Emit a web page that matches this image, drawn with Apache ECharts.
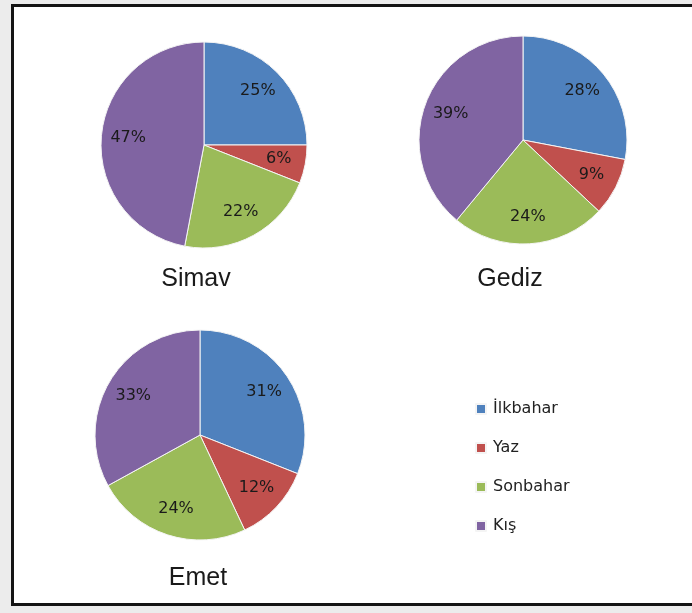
<!DOCTYPE html>
<html>
<head>
<meta charset="utf-8">
<script src="https://cdn.jsdelivr.net/npm/echarts@6/dist/echarts.min.js"></script>
<style>
  html, body { margin: 0; padding: 0; background: #ececec; }
  #frame { position: absolute; left: 11px; top: 4px; width: 720px; height: 596px; border: 3px solid #141414; border-right: none; background: #fff; }
  #main { position: absolute; left: 0; top: 0; width: 692px; height: 613px; }
</style>
</head>
<body>
<div id="frame"></div>
<div id="main"></div>
<script>
// mevsimler (seasons) and share of each station, in percent
const seasons = ["İlkbahar", "Yaz", "Sonbahar", "Kış"]
const stations = ["Simav", "Gediz", "Emet"]
const simavValues = [25, 6, 22, 47]
const gedizValues = [28, 9, 24, 39]
const emetValues = [31, 12, 24, 33]

const colors = ["#4f81bd", "#c0504d", "#9bbb59", "#8064a2"]

const myChart = echarts.init(document.getElementById("main"), null, { renderer: "canvas" })

// pie placement, px
const pies = [
  { values: simavValues, center: [204, 145], radius: 103, titleX: 196, titleY: 267 },
  { values: gedizValues, center: [523, 140], radius: 104, titleX: 510, titleY: 267 },
  { values: emetValues, center: [200, 435], radius: 105, titleX: 198, titleY: 566 }
]

const series = []
const titles = []

pies.forEach(function (p, i) {
  const data = p.values.map(function (v, k) {
    return { name: seasons[k], value: v }
  })
  // the coloured slices
  series.push({
    name: stations[i],
    type: "pie",
    center: p.center,
    radius: [0, p.radius],
    startAngle: 90,
    clockwise: true,
    animation: false,
    silent: true,
    label: { show: false },
    labelLine: { show: false },
    itemStyle: { borderColor: "#f4f4f4", borderWidth: 1 },
    data: data
  })
  // invisible ring, only to push the labels outward (about 0.7 of radius)
  series.push({
    name: stations[i] + "-lbl",
    type: "pie",
    center: p.center,
    radius: [p.radius * 0.42, p.radius],
    startAngle: 90,
    clockwise: true,
    animation: false,
    silent: true,
    legendHoverLink: false,
    itemStyle: { color: "transparent", borderWidth: 0 },
    label: {
      show: true,
      position: "inside",
      formatter: "{c}%",
      color: "#1a1a1a",
      fontFamily: "DejaVu Sans",
      fontSize: 16
    },
    labelLine: { show: false },
    data: data
  })
  titles.push({
    text: stations[i],
    left: p.titleX,
    top: p.titleY,
    padding: 0,
    textAlign: "center",
    textStyle: {
      fontFamily: "Liberation Sans",
      fontSize: 25,
      fontWeight: "normal",
      color: "#1a1a1a"
    }
  })
})

const option = {
  backgroundColor: "transparent",
  color: colors,
  title: titles,
  legend: {
    orient: "vertical",
    left: 475,
    top: 401,
    padding: 0,
    itemWidth: 10,
    itemHeight: 10,
    itemGap: 23,
    icon: "rect",
    data: seasons,
    selectedMode: false,
    textStyle: {
      fontFamily: "DejaVu Sans",
      fontSize: 16,
      color: "#222",
      padding: [0, 0, 0, 2]
    }
  },
  series: series
}
myChart.setOption(option, true)
</script>
</body>
</html>
